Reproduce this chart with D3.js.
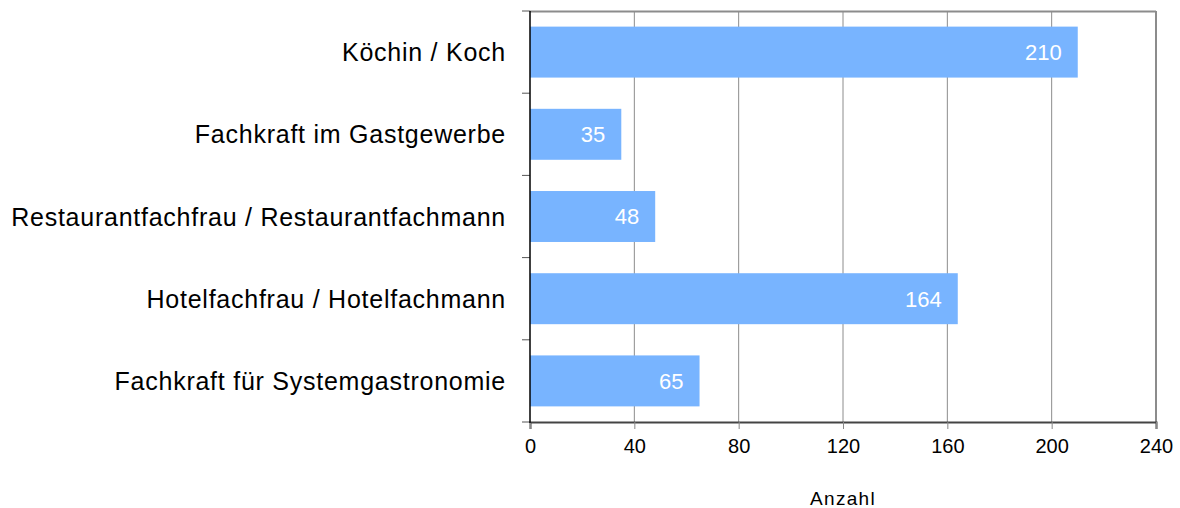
<!DOCTYPE html>
<html>
<head>
<meta charset="utf-8">
<script src="https://cdn.jsdelivr.net/npm/d3@7"></script>
<style>
  body { margin: 0; background: #fff; }
  text { font-family: "Liberation Sans", Arial, sans-serif; }
</style>
</head>
<body>
<svg id="chart" width="1180" height="508"></svg>
<script>
const categories = [
  'Köchin / Koch',
  'Fachkraft im Gastgewerbe',
  'Restaurantfachfrau / Restaurantfachmann',
  'Hotelfachfrau / Hotelfachmann',
  'Fachkraft für Systemgastronomie'
];
const values = [210, 35, 48, 164, 65];
const xTicks = [0, 40, 80, 120, 160, 200, 240];
const xTitle = 'Anzahl';

const margin = { top: 11, right: 24, bottom: 86, left: 530 };
const width = 1180 - margin.left - margin.right;
const height = 508 - margin.top - margin.bottom;

const svg = d3.select('#chart');
const g = svg.append('g')
  .attr('transform', 'translate(' + margin.left + ',' + margin.top + ')');

const x = d3.scaleLinear().domain([0, 240]).range([0, width]);
const y = d3.scaleBand()
  .domain(categories)
  .range([0, height])
  .paddingInner(0.38)
  .paddingOuter(0.19);

// grid lines
g.selectAll('.grid')
  .data(xTicks.slice(1, -1))
  .enter()
  .append('line')
  .attr('x1', d => x(d))
  .attr('x2', d => x(d))
  .attr('y1', 0)
  .attr('y2', height)
  .style('stroke', '#8c8c8c')
  .style('stroke-width', 1);

// top and right frame
g.append('line')
  .attr('x1', 0).attr('x2', width)
  .attr('y1', 0.5).attr('y2', 0.5)
  .style('stroke', '#8c8c8c').style('stroke-width', 2);
g.append('line')
  .attr('x1', width).attr('x2', width)
  .attr('y1', 0).attr('y2', height)
  .style('stroke', '#8c8c8c').style('stroke-width', 2);

// bars
g.selectAll('.bar')
  .data(values)
  .enter()
  .append('rect')
  .attr('class', 'bar')
  .attr('x', 0)
  .attr('y', (d, i) => y(categories[i]))
  .attr('width', d => x(d))
  .attr('height', y.bandwidth())
  .style('fill', '#78b4ff');

// value labels
g.selectAll('.val')
  .data(values)
  .enter()
  .append('text')
  .attr('x', d => x(d) - 16)
  .attr('y', (d, i) => y(categories[i]) + y.bandwidth() / 2)
  .attr('dy', '0.36em')
  .attr('text-anchor', 'end')
  .style('font-size', '22px')
  .style('fill', '#fff')
  .text(d => d);

// x axis
const xAxis = g.append('g')
  .attr('transform', 'translate(0,' + height + ')')
  .call(d3.axisBottom(x).tickValues(xTicks).tickSize(7).tickPadding(10));
xAxis.select('.domain').style('stroke', '#444').style('stroke-width', 2);
xAxis.selectAll('.tick line').style('stroke', '#888');
xAxis.selectAll('text').style('font-size', '20px').style('fill', '#000');

// y axis: ticks at band boundaries
const boundaries = categories.map(c => y(c) - y.step() * y.paddingInner() / 2)
  .concat([height]);
g.selectAll('.ytick')
  .data(boundaries)
  .enter()
  .append('line')
  .attr('x1', -8)
  .attr('x2', 0)
  .attr('y1', d => d)
  .attr('y2', d => d)
  .style('stroke', '#555')
  .style('stroke-width', 1);
g.append('line')
  .attr('x1', 0).attr('x2', 0)
  .attr('y1', 0).attr('y2', height + 1)
  .style('stroke', '#000').style('stroke-width', 1.5);

g.selectAll('.ylabel')
  .data(categories)
  .enter()
  .append('text')
  .attr('x', -24)
  .attr('y', d => y(d) + y.bandwidth() / 2)
  .attr('dy', '0.36em')
  .attr('text-anchor', 'end')
  .style('font-size', '25px')
  .style('letter-spacing', '0.75px')
  .style('fill', '#000')
  .text(d => d);

// axis title
svg.append('text')
  .attr('x', margin.left + width / 2)
  .attr('y', 505)
  .attr('text-anchor', 'middle')
  .style('font-size', '19px')
  .style('letter-spacing', '1.3px')
  .style('fill', '#000')
  .text(xTitle);
</script>
</body>
</html>
